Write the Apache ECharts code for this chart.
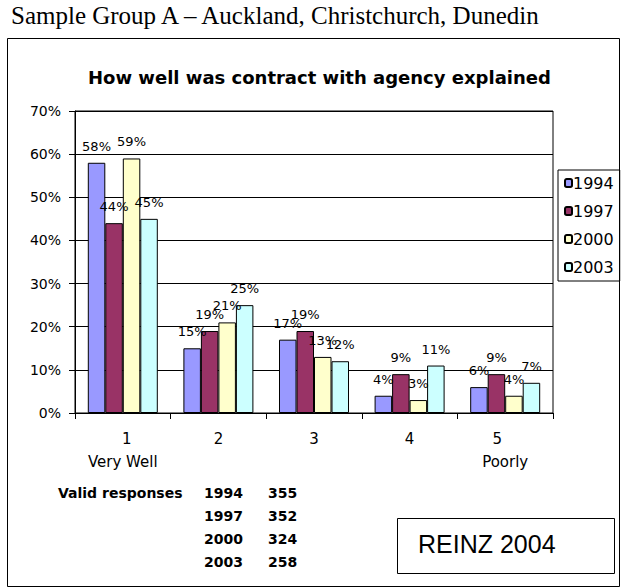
<!DOCTYPE html>
<html><head><meta charset="utf-8">
<script src="https://cdn.jsdelivr.net/npm/echarts@6/dist/echarts.min.js"></script>
<style>html,body{margin:0;padding:0;background:#fff}#c{width:621px;height:588px}</style>
</head><body><div id="c"></div>
<script>
const categories = ['1\nVery Well', '2', '3', '4', '5\nPoorly'];
const seriesNames = ['1994', '1997', '2000', '2003'];
const v1994 = [58, 15, 17, 4, 6];
const v1997 = [44, 19, 19, 9, 9];
const v2000 = [59, 21, 13, 3, 4];
const v2003 = [45, 25, 12, 11, 7];
const colors = ['#9999FF', '#993366', '#FFFFCC', '#CCFFFF'];
const yTicks = [0, 10, 20, 30, 40, 50, 60, 70];
const respYears = ['1994', '1997', '2000', '2003'];
const respCounts = ['355', '352', '324', '258'];

const values = [v1994, v1997, v2000, v2003];
const SANS = 'DejaVu Sans';
const chart = echarts.init(document.getElementById('c'), null, {renderer: 'svg'});

const graphics = [
  {type: 'rect', shape: {x: 7.5, y: 38.5, width: 612, height: 548}, style: {fill: 'none', stroke: '#000', lineWidth: 1}, z: -1},
  {type: 'text', left: 58, top: 486, style: {text: 'Valid responses', font: 'bold 14px "DejaVu Sans"', fill: '#000'}},
  {type: 'rect', shape: {x: 397.5, y: 518.5, width: 217, height: 55}, style: {fill: '#fff', stroke: '#000', lineWidth: 1}},
  {type: 'text', left: 418, top: 531, style: {text: 'REINZ 2004', font: '25px "Liberation Sans"', fill: '#000'}}
];
respYears.forEach((y, i) => {
  graphics.push({type: 'text', left: 204, top: 486 + i * 23, style: {text: y, font: 'bold 14px "DejaVu Sans"', fill: '#000'}});
  graphics.push({type: 'text', left: 268, top: 486 + i * 23, style: {text: respCounts[i], font: 'bold 14px "DejaVu Sans"', fill: '#000'}});
});

chart.setOption({
  animation: false,
  textStyle: {fontFamily: SANS},
  title: [
    {text: 'Sample Group A – Auckland, Christchurch, Dunedin', left: 11, top: 3, padding: 0, textStyle: {fontFamily: 'Liberation Serif', fontSize: 25, fontWeight: 'normal', color: '#000'}},
    {text: 'How well was contract with agency explained', left: 88, top: 68, padding: 0, textStyle: {fontFamily: SANS, fontSize: 18, fontWeight: 'bold', color: '#000'}}
  ],
  legend: {
    orient: 'vertical', left: 558, top: 170, padding: [5, 6, 6, 6],
    borderColor: '#000', borderWidth: 1, itemWidth: 7, itemHeight: 8, itemGap: 12,
    textStyle: {fontSize: 16, lineHeight: 16, color: '#000', padding: [0, 0, 0, -4]},
    data: seriesNames
  },
  grid: {left: 75, right: 68, top: 111, bottom: 175, show: true, borderColor: '#000', borderWidth: 1},
  xAxis: {
    type: 'category', data: categories,
    axisLine: {lineStyle: {color: '#000'}},
    axisTick: {show: true, length: 6, lineStyle: {color: '#000'}},
    axisLabel: {
      color: '#000', fontSize: 15, margin: 14, lineHeight: 23,
      formatter: v => {
        const p = v.split('\n');
        if (p[0] === '1') return '{a|1}\n' + p[1];
        if (p[0] === '5') return '{b|5}\n' + p[1];
        return v;
      },
      rich: {
        a: {fontSize: 15, lineHeight: 23, color: '#000', padding: [0, 0, 0, 8]},
        b: {fontSize: 15, lineHeight: 23, color: '#000', padding: [0, 16, 0, 0]}
      }
    }
  },
  yAxis: {
    type: 'value', min: 0, max: 70, interval: 10,
    axisLine: {show: true, lineStyle: {color: '#000'}},
    axisTick: {show: true, length: 6, lineStyle: {color: '#000'}},
    axisLabel: {color: '#000', fontSize: 14, margin: 14, formatter: v => yTicks.includes(v) ? v + '%' : ''},
    splitLine: {lineStyle: {color: '#000', width: 1}}
  },
  series: seriesNames.map((n, i) => ({
    name: n, type: 'bar', data: values[i], barWidth: 17.5, barGap: '0%',
    itemStyle: {color: colors[i], borderColor: '#000', borderWidth: 1},
    label: {show: true, position: 'top', distance: 10, formatter: '{c}%', color: '#000', fontSize: 13}
  })),
  graphic: graphics
});
</script></body></html>
